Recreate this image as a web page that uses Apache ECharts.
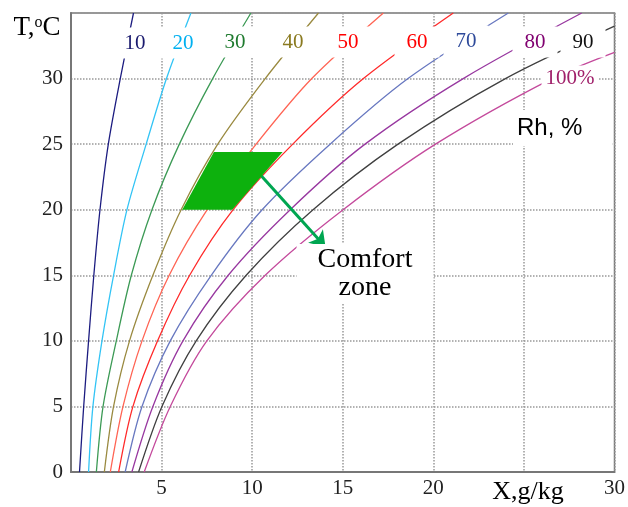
<!DOCTYPE html>
<html>
<head>
<meta charset="utf-8">
<script src="https://cdn.jsdelivr.net/npm/echarts@6/dist/echarts.min.js"></script>
<style>
  html, body { margin: 0; padding: 0; background: #fff; }
  #chart { width: 628px; height: 507px; }
</style>
</head>
<body>
<div id="chart"></div>
<script>
// relative humidity of each curve, %
const rhLevels = [10, 20, 30, 40, 50, 60, 70, 80, 90, 100];

// curves as [X g/kg, T degC]
const rh10 = [[0.47, 0], [0.70, 5], [0.97, 10], [1.26, 15], [1.60, 20], [2.06, 25], [2.72, 30], [3.45, 35]];
const rh20 = [[0.97, 0], [1.21, 5], [1.71, 10], [2.35, 15], [3.09, 20], [4.15, 25], [5.27, 30], [6.62, 35]];
const rh30 = [[1.40, 0], [1.77, 5], [2.50, 10], [3.33, 15], [4.47, 20], [5.98, 25], [7.82, 30], [9.93, 35]];
const rh40 = [[1.84, 0], [2.35, 5], [3.23, 10], [4.52, 15], [6.08, 20], [8.10, 25], [10.72, 30], [13.66, 35]];
const rh50 = [[2.17, 0], [2.87, 5], [3.92, 10], [5.42, 15], [7.52, 20], [10.22, 25], [13.29, 30], [17.24, 35]];
const rh60 = [[2.63, 0], [3.42, 5], [4.78, 10], [6.55, 15], [8.95, 20], [12.24, 25], [16.14, 30], [21.10, 35]];
const rh70 = [[2.99, 0], [3.92, 5], [5.48, 10], [7.74, 15], [10.55, 20], [14.30, 25], [18.60, 30], [24.14, 35]];
const rh80 = [[3.36, 0], [4.52, 5], [6.18, 10], [8.68, 15], [12.10, 20], [16.23, 25], [21.65, 30], [28.19, 35]];
const rh90 = [[3.73, 0], [5.02, 5], [6.91, 10], [9.67, 15], [13.36, 20], [18.05, 25], [23.98, 30], [30, 34.0]];
const rh100 = [[4.04, 0], [5.48, 5], [7.50, 10], [10.72, 15], [15.02, 20], [20.12, 25], [26.55, 30], [30, 32.0]];
const curves = [rh10, rh20, rh30, rh40, rh50, rh60, rh70, rh80, rh90, rh100];

// tick labels
const xTicks = ['', '5', '10', '15', '20', '', '30'];
const yTicks = ['0', '5', '10', '15', '20', '25', '30', ''];

// comfort zone corners and the arrow pointing out of it
const comfortZone = [[6.14, 20], [8.90, 20], [11.68, 24.4], [7.89, 24.4]];
const comfortArrow = [[9.64, 23.9], [14.05, 17.15]];

const lineColors = ['#1c1c80', '#33c4f5', '#3c9a55', '#9a8a40', '#ff6454', '#ff2a2a',
                    '#6878c0', '#9838a0', '#404040', '#c44a9c'];
const labelColors = ['#1a1a6e', '#00b0f0', '#1e7a2e', '#8a7a20', '#ff0000', '#ff0000',
                     '#2e4a9a', '#800070', '#111111', '#a0206a'];
const labelSpots = [[135, 43], [183, 43], [235, 42], [293, 42], [348, 42], [417, 42],
                    [466, 41], [535, 42], [583, 42], [570, 78]];

const serif = '"Liberation Serif", "Times New Roman", serif';

const chart = echarts.init(document.getElementById('chart'));

const lineSeries = curves.map((pts, i) => ({
  type: 'line',
  name: rhLevels[i] + '%',
  data: pts,
  smooth: 0.3,
  symbol: 'none',
  silent: true,
  z: 2,
  lineStyle: { color: lineColors[i], width: 1.3 }
}));

const curveLabels = rhLevels.map((rh, i) => ({
  type: 'text',
  x: labelSpots[i][0],
  y: labelSpots[i][1],
  z: 100,
  style: {
    text: rh === 100 ? rh + '%' : String(rh),
    font: '21px ' + serif,
    fill: labelColors[i],
    align: 'center',
    verticalAlign: 'middle',
    backgroundColor: '#fff',
    padding: rh === 100 ? [2, 4] : [5, 12]
  }
}));

chart.setOption({
  animation: false,
  grid: {
    left: 71, right: 13, top: 13, bottom: 35,
    show: true, borderColor: '#777', borderWidth: 1.5
  },
  xAxis: {
    type: 'value', min: 0, max: 30, interval: 5,
    axisLine: { show: true, lineStyle: { color: '#777', width: 2 } },
    axisTick: { show: false },
    axisLabel: {
      margin: 6, color: '#222', fontFamily: serif, fontSize: 21,
      formatter: v => xTicks[Math.round(v / 5)]
    },
    splitLine: { show: true, lineStyle: { color: '#999', width: 1.5, type: 'dotted' } }
  },
  yAxis: {
    type: 'value', min: 0, max: 35, interval: 5,
    axisLine: { show: true, lineStyle: { color: '#777', width: 2 } },
    axisTick: { show: false },
    axisLabel: {
      margin: 8, color: '#222', fontFamily: serif, fontSize: 21,
      formatter: v => yTicks[Math.round(v / 5)]
    },
    splitLine: { show: true, lineStyle: { color: '#999', width: 1.5, type: 'dotted' } }
  },
  series: [
    ...lineSeries,
    {
      type: 'custom',
      silent: true,
      z: 5,
      data: [[0, 0]],
      renderItem: (params, api) => ({
        type: 'polygon',
        shape: { points: comfortZone.map(p => api.coord(p)) },
        style: { fill: '#0db10d' }
      })
    },
    {
      type: 'line',
      data: [],
      z: 6,
      markLine: {
        silent: true,
        animation: false,
        symbol: ['none', 'arrow'],
        symbolSize: 15,
        label: { show: false },
        lineStyle: { color: '#00a651', width: 3, type: 'solid' },
        data: [[{ coord: comfortArrow[0] }, { coord: comfortArrow[1] }]]
      }
    }
  ],
  graphic: [
    ...curveLabels,
    {
      type: 'text', x: 365, y: 274, z: 100,
      style: {
        text: 'Comfort\nzone', font: '28px ' + serif, lineHeight: 28,
        fill: '#000', align: 'center', verticalAlign: 'middle',
        backgroundColor: '#fff', padding: [0, 21, 4, 21]
      }
    },
    {
      type: 'text', x: 513, y: 128, z: 100,
      style: {
        text: 'Rh, %', font: '24px "Liberation Sans", Arial, sans-serif',
        fill: '#000', align: 'left', verticalAlign: 'middle',
        backgroundColor: '#fff', padding: [6, 30, 6, 4]
      }
    },
    {
      type: 'text', x: 37, y: 28, z: 100,
      style: {
        text: 'T,{sup|o}C',
        font: '27px ' + serif,
        fill: '#000', align: 'center', verticalAlign: 'middle',
        rich: { sup: { fontSize: 16, fontFamily: serif, verticalAlign: 'top', padding: [0, 0, 10, 0] } }
      }
    },
    {
      type: 'text', x: 528, y: 492, z: 100,
      style: {
        text: 'X,g/kg', font: '26px ' + serif,
        fill: '#000', align: 'center', verticalAlign: 'middle'
      }
    }
  ]
});

window.addEventListener('resize', () => chart.resize());
</script>
</body>
</html>
